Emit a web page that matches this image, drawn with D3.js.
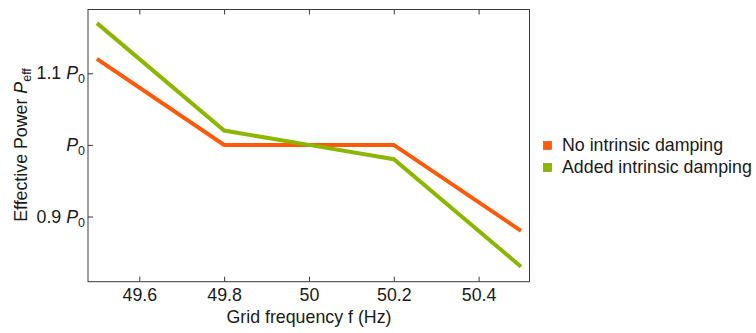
<!DOCTYPE html>
<html><head><meta charset="utf-8">
<script src="https://cdn.jsdelivr.net/npm/d3@7"></script>
<style>body{margin:0;background:#fff}svg{display:block}text{font-family:"Liberation Sans",Arial,sans-serif}</style>
</head><body><svg id="c" width="756" height="333"></svg>
<script>
const freq = [49.5, 49.8, 50, 50.2, 50.5];
const noDamping = [1.12, 1.0, 1.0, 1.0, 0.88];
const addedDamping = [1.17, 1.02, 1.0, 0.98, 0.83];
const seriesNames = ["No intrinsic damping", "Added intrinsic damping"];
const seriesColors = ["#ff5a0a", "#8db600"];
const xTicks = [49.6, 49.8, 50, 50.2, 50.4];
const xTickLabels = ["49.6", "49.8", "50", "50.2", "50.4"];
const yTicks = [0.9, 1.0, 1.1];
const yTickPrefix = ["0.9 ", "", "1.1 "];

const FS = 17.8, FONT = '"Liberation Sans",Arial,sans-serif', TXT = "#1a1a1a";
const svg = d3.select("#c");
const L = 88, R = 529.5, T = 9.5, B = 281.7;
const x = d3.scaleLinear().domain([49.479, 50.52]).range([L, R]);
const y = d3.scaleLinear().domain([0.809, 1.189]).range([B, T]);

const frameColor = "#3a3a3a";

// lines
const line = d3.line().x((d, i) => x(freq[i])).y(d => y(d));
[noDamping, addedDamping].forEach((s, k) => {
  svg.append("path").datum(s).attr("d", line).attr("fill", "none")
    .attr("stroke", seriesColors[k]).attr("stroke-width", 4).attr("stroke-linejoin", "miter");
});

svg.append("rect").attr("x", L).attr("y", T).attr("width", R - L).attr("height", B - T)
  .attr("fill", "none").attr("stroke", frameColor).attr("stroke-width", 1);

// bottom axis ticks
const gx = svg.append("g").attr("transform", `translate(0,${B})`)
  .call(d3.axisBottom(x).tickValues(xTicks).tickSize(-5).tickPadding(0).tickFormat((d, i) => xTickLabels[i]));
gx.select(".domain").remove();
gx.selectAll("line").attr("stroke", frameColor);
gx.selectAll("text").attr("font-size", FS).attr("fill", TXT).attr("font-family", FONT).attr("y", 19).attr("dy", null);
// top ticks
const gxt = svg.append("g").attr("transform", `translate(0,${T})`)
  .call(d3.axisTop(x).tickValues(xTicks).tickSize(-5).tickFormat(""));
gxt.select(".domain").remove();
gxt.selectAll("line").attr("stroke", frameColor);

// left axis
const gy = svg.append("g").attr("transform", `translate(${L},0)`)
  .call(d3.axisLeft(y).tickValues(yTicks).tickSize(-5).tickPadding(3).tickFormat(""));
gy.select(".domain").remove();
gy.selectAll("line").attr("stroke", frameColor);
gy.selectAll(".tick text").each(function(d, i) {
  const t = d3.select(this).attr("font-size", FS).attr("fill", TXT).attr("dy", "0.32em")
    .attr("font-family", FONT);
  t.text(null);
  t.append("tspan").text(yTickPrefix[i]);
  t.append("tspan").attr("font-style", "italic").text("P");
  t.append("tspan").attr("font-size", FS * 0.7).attr("dy", "4").text("0");
});

// axis labels
svg.append("text").attr("x", x(50)).attr("y", 323).attr("text-anchor", "middle")
  .attr("font-size", FS).attr("fill", TXT).text("Grid frequency f (Hz)");
const yl = svg.append("text").attr("transform", `translate(27,145) rotate(-90)`).attr("text-anchor", "middle")
  .attr("font-size", FS).attr("fill", TXT);
yl.append("tspan").text("Effective Power ");
yl.append("tspan").attr("font-style", "italic").text("P");
yl.append("tspan").attr("font-size", FS * 0.7).attr("dy", "4").text("eff");

// legend
const lg = svg.append("g").attr("transform", "translate(543.5,0)");
seriesNames.forEach((n, k) => {
  const yy = 145.5 + k * 22;
  lg.append("rect").attr("x", 0).attr("y", yy - 4).attr("width", 8).attr("height", 8)
    .attr("fill", seriesColors[k]).attr("stroke", d3.color(seriesColors[k]).darker(0.7)).attr("stroke-width", 0.6);
  lg.append("text").attr("x", 18.5).attr("y", yy + 5.5).attr("font-size", FS).attr("fill", TXT).text(n);
});
</script></body></html>
